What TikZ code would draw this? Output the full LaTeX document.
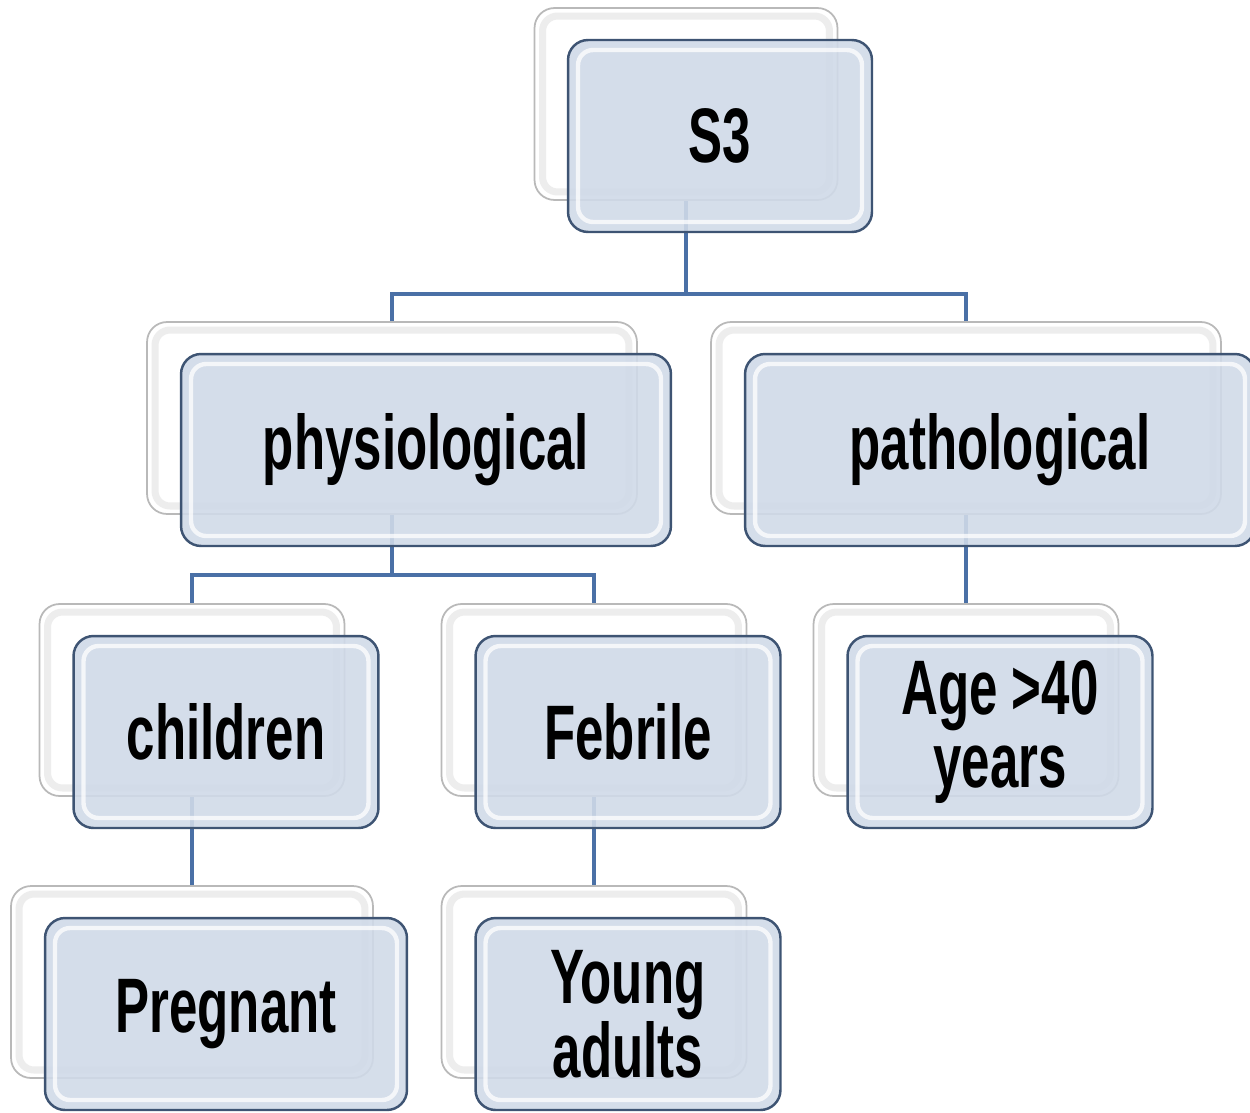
\documentclass[tikz,border=0pt]{standalone}
\usepackage{fontspec}
\newfontfamily\boxfont{Liberation Sans}[FakeStretch=0.66]
\usetikzlibrary{positioning}
\definecolor{linkblue}{RGB}{74,112,166}
\definecolor{boxfill}{RGB}{208,218,232}
\definecolor{boxedge}{RGB}{62,84,115}
\definecolor{backedge}{RGB}{185,185,185}

\begin{document}
\begin{tikzpicture}[
  x=0.02cm, y=-0.02cm,
  every node/.style={font=\boxfont\bfseries\fontsize{44}{42}\selectfont},
  backbox/.style={draw=backedge, line width=1pt, rounded corners=0.4cm, fill=white, minimum height=3.84cm, inner sep=0pt,
    path picture={\draw[gray!14, line width=4pt, rounded corners=0.3cm] ([shift={(0.16cm,-0.16cm)}]path picture bounding box.north west) rectangle ([shift={(-0.16cm,0.16cm)}]path picture bounding box.south east);}},
  frontbox/.style={draw=boxedge, line width=1.4pt, rounded corners=0.4cm, fill=boxfill, fill opacity=0.9, text opacity=1, align=center, minimum height=3.84cm, inner sep=0pt,
    path picture={\draw[white, opacity=0.75, line width=2.5pt, rounded corners=0.3cm] ([shift={(0.2cm,-0.2cm)}]path picture bounding box.north west) rectangle ([shift={(-0.2cm,0.2cm)}]path picture bounding box.south east);}},
  link/.style={draw=linkblue, line width=2pt},
]
\useasboundingbox (0,0) rectangle (1250,1112);

% back plates
\node[backbox, minimum width=6.06cm] (s3b) at (686,104) {};
\node[backbox, minimum width=9.8cm] (physb) at (392,418) {};
\node[backbox, minimum width=10.2cm] (pathb) at (966,418) {};
\node[backbox, minimum width=6.1cm] (childb) at (192,700) {};
\node[backbox, minimum width=6.1cm] (febb) at (594,700) {};
\node[backbox, minimum width=6.1cm] (ageb) at (966,700) {};
\node[backbox, minimum width=7.24cm] (pregb) at (192,982) {};
\node[backbox, minimum width=6.1cm] (youngb) at (594,982) {};

% links
\draw[link] (s3b.south) -- ++(0,93) -| (physb.north);
\draw[link] (s3b.south) -- ++(0,93) -| (pathb.north);
\draw[link] (physb.south) -- ++(0,60) -| (childb.north);
\draw[link] (physb.south) -- ++(0,60) -| (febb.north);
\draw[link] (pathb.south) -- (ageb.north);
\draw[link] (childb.south) -- (pregb.north);
\draw[link] (febb.south) -- (youngb.north);

% front boxes
\node[frontbox, minimum width=6.08cm] (s3) at ([shift={(34,32)}]s3b) {S3};
\node[frontbox, minimum width=9.8cm] (phys) at ([shift={(34,32)}]physb) {physiological};
\node[frontbox, minimum width=10.2cm] (path) at ([shift={(34,32)}]pathb) {pathological};
\node[frontbox, minimum width=6.1cm] (child) at ([shift={(34,32)}]childb) {children};
\node[frontbox, minimum width=6.1cm] (feb) at ([shift={(34,32)}]febb) {Febrile};
\node[frontbox, minimum width=6.1cm] (age) at ([shift={(34,32)}]ageb) {Age >40\\years};
\node[frontbox, minimum width=7.24cm] (preg) at ([shift={(34,32)}]pregb) {Pregnant};
\node[frontbox, minimum width=6.1cm] (young) at ([shift={(34,32)}]youngb) {Young\\adults};

\end{tikzpicture}
\end{document}
